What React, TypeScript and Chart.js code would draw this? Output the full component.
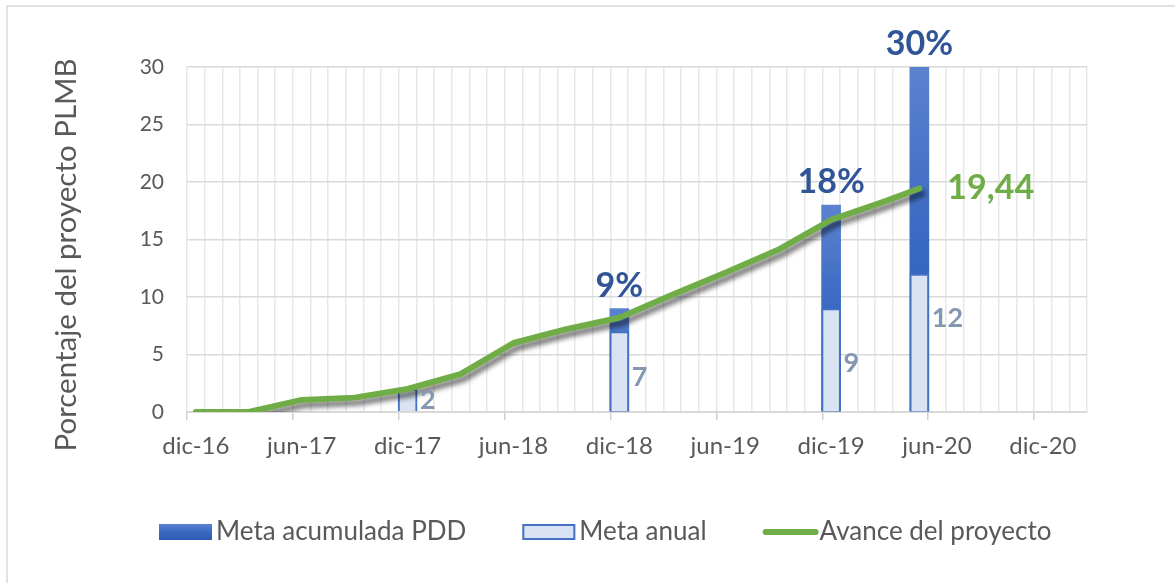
import React, { useEffect, useRef } from 'react';
import { Chart, registerables } from 'chart.js';

Chart.register(...registerables);

// ---------- data ----------
const xTickLabels = ['dic-16', 'jun-17', 'dic-17', 'jun-18', 'dic-18', 'jun-19', 'dic-19', 'jun-20', 'dic-20'];
const seriesNames = ['Meta acumulada PDD', 'Meta anual', 'Avance del proyecto'];
const yTitle = 'Porcentaje del proyecto PLMB';

// months counted from dic-16 (0)
const barMonths = [12, 24, 36, 41];
const metaAcumulada = [null, 9, 18, 30];
const metaAnual = [2, 7, 9, 12];

const avanceMonths = [0, 3, 6, 9, 12, 15, 18, 21, 24, 27, 30, 33, 36, 39, 41];
const avanceValues = [0, 0, 1.05, 1.25, 2.0, 3.3, 6.0, 7.2, 8.2, 10.2, 12.1, 14.1, 16.7, 18.3, 19.44];

const X_MIN = 0;
const X_MAX = 51;
const Y_MIN = 0;
const Y_MAX = 30;
const Y_STEP = 5;

// ---------- styles ----------
const FONT = 'Lato, "Liberation Sans", sans-serif';
const TEXT = '#595959';
const GREEN = '#70AD47';
const BLUE = '#4472C4';
const LIGHT = '#DAE3F3';
const DARK_LABEL = '#2F5597';
const GREY_LABEL = '#8497B0';

function darkGradient(ctx: CanvasRenderingContext2D, top: number, bottom: number) {
  const g = ctx.createLinearGradient(0, top, 0, bottom);
  g.addColorStop(0, '#5B82CF');
  g.addColorStop(0.5, '#3A69C2');
  g.addColorStop(1, '#2C5BB4');
  return g;
}

const framePlugin = {
  id: 'frame',
  beforeDraw(chart: any) {
    const ctx = chart.ctx;
    ctx.save();
    ctx.strokeStyle = '#D9D9D9';
    ctx.lineWidth = 1.5;
    ctx.beginPath();
    ctx.moveTo(7, chart.height);
    ctx.lineTo(7, 6);
    ctx.lineTo(chart.width, 6);
    ctx.stroke();
    ctx.restore();
  },
};

const shadowPlugin = {
  id: 'lineShadow',
  beforeDatasetDraw(chart: any, args: any) {
    if (args.index === 0) {
      const ctx = chart.ctx;
      ctx.save();
      ctx.shadowColor = 'rgba(0,0,0,0.55)';
      ctx.shadowBlur = 5;
      ctx.shadowOffsetX = 3;
      ctx.shadowOffsetY = 5;
    }
  },
  afterDatasetDraw(chart: any, args: any) {
    if (args.index === 0) chart.ctx.restore();
  },
};

const labelPlugin = {
  id: 'labels',
  afterDatasetsDraw(chart: any) {
    const ctx = chart.ctx;
    const yScale = chart.scales.y;
    ctx.save();
    // cumulative labels above dark bars
    const metaAcc = chart.getDatasetMeta(2);
    ctx.font = `bold 34px ${FONT}`;
    ctx.fillStyle = DARK_LABEL;
    ctx.textAlign = 'center';
    ctx.textBaseline = 'alphabetic';
    metaAcc.data.forEach((el: any, i: number) => {
      const raw = chart.data.datasets[2].data[i];
      ctx.fillText(`${raw.y}%`, el.x, el.y - 12);
    });
    // annual labels beside light bars
    const metaAn = chart.getDatasetMeta(1);
    const shifts = [0, 6, 3, -25];
    ctx.font = `bold 27px ${FONT}`;
    ctx.fillStyle = GREY_LABEL;
    ctx.textAlign = 'left';
    ctx.textBaseline = 'middle';
    metaAn.data.forEach((el: any, i: number) => {
      const raw = chart.data.datasets[1].data[i];
      const mid = (el.y + yScale.getPixelForValue(0)) / 2 + (shifts[i] || 0);
      ctx.fillText(String(raw.y), el.x + el.width / 2 + 3, mid);
    });
    // last value of the line
    const metaLine = chart.getDatasetMeta(0);
    const last = metaLine.data[metaLine.data.length - 1];
    const lastVal = avanceValues[avanceValues.length - 1];
    ctx.font = `bold 34px ${FONT}`;
    ctx.fillStyle = GREEN;
    ctx.textAlign = 'left';
    ctx.textBaseline = 'middle';
    ctx.fillText(lastVal.toFixed(2).replace('.', ','), last.x + 28, last.y);
    ctx.restore();
  },
};

const titlePlugin = {
  id: 'yTitle',
  afterDraw(chart: any) {
    const ctx = chart.ctx;
    ctx.save();
    ctx.translate(66, 255);
    ctx.rotate(-Math.PI / 2);
    ctx.font = `29.5px ${FONT}`;
    ctx.fillStyle = TEXT;
    ctx.textAlign = 'center';
    ctx.textBaseline = 'middle';
    ctx.fillText(yTitle, 0, 0);
    ctx.restore();
  },
};

const legendPlugin = {
  id: 'customLegend',
  afterDraw(chart: any) {
    const ctx = chart.ctx;
    ctx.save();
    ctx.font = `26px ${FONT}`;
    ctx.textAlign = 'left';
    ctx.textBaseline = 'middle';
    const y = 532;
    let x = 159;
    const boxW = 53;
    const boxH = 16;
    const gap = 4;
    const spacing = 56;
    seriesNames.forEach((name, i) => {
      if (i === 0) {
        ctx.fillStyle = darkGradient(ctx, y - boxH / 2, y + boxH / 2);
        ctx.fillRect(x, y - boxH / 2, boxW, boxH);
      } else if (i === 1) {
        ctx.fillStyle = LIGHT;
        ctx.fillRect(x, y - boxH / 2, boxW, boxH);
        ctx.strokeStyle = BLUE;
        ctx.lineWidth = 2;
        ctx.strokeRect(x + 1, y - boxH / 2 + 1, boxW - 2, boxH - 2);
      } else {
        ctx.strokeStyle = GREEN;
        ctx.lineWidth = 6;
        ctx.lineCap = 'round';
        ctx.beginPath();
        ctx.moveTo(x + 3, y);
        ctx.lineTo(x + boxW, y);
        ctx.stroke();
      }
      ctx.fillStyle = TEXT;
      ctx.fillText(name, x + boxW + gap, y);
      x += boxW + gap + ctx.measureText(name).width + spacing;
    });
    ctx.restore();
  },
};

export default function App() {
  const canvasRef = useRef<HTMLCanvasElement | null>(null);

  useEffect(() => {
    if (!canvasRef.current) return;

    const lineData = avanceMonths.map((m, i) => ({ x: m + 0.5, y: avanceValues[i] }));
    const anualData = barMonths.map((m, i) => ({ x: m + 0.5, y: metaAnual[i] }));
    const accData = barMonths
      .map((m, i) => ({ x: m + 0.5, y: metaAcumulada[i] }))
      .filter((d) => d.y !== null);

    const chart = new Chart(canvasRef.current, {
      type: 'line',
      data: {
        datasets: [
          {
            type: 'line',
            label: seriesNames[2],
            data: lineData,
            borderColor: GREEN,
            backgroundColor: GREEN,
            borderWidth: 6,
            pointRadius: 0,
            pointHoverRadius: 0,
            tension: 0,
            fill: false,
            borderCapStyle: 'round',
            borderJoinStyle: 'round',
            order: 0,
          } as any,
          {
            type: 'bar',
            label: seriesNames[1],
            data: anualData,
            backgroundColor: LIGHT,
            borderColor: BLUE,
            borderWidth: 2,
            barThickness: 19,
            grouped: false,
            order: 1,
          } as any,
          {
            type: 'bar',
            label: seriesNames[0],
            data: accData,
            backgroundColor: (c: any) => {
              const ch = c.chart;
              if (!ch.chartArea || !c.raw) return BLUE;
              const top = ch.scales.y.getPixelForValue(c.raw.y);
              const bottom = ch.scales.y.getPixelForValue(0);
              return darkGradient(ch.ctx, top, bottom);
            },
            borderWidth: 0,
            barThickness: 19,
            grouped: false,
            order: 2,
          } as any,
        ],
      },
      options: {
        animation: false,
        responsive: true,
        maintainAspectRatio: false,
        layout: { padding: { left: 0, right: 88, top: 67, bottom: 111 } },
        plugins: {
          legend: { display: false },
          tooltip: { enabled: false },
          title: { display: false },
        },
        scales: {
          x: {
            type: 'linear',
            min: X_MIN,
            max: X_MAX,
            offset: false,
            afterFit: (s: any) => {
              s.height = 60;
            },
            ticks: {
              stepSize: 1,
              autoSkip: false,
              maxRotation: 0,
              minRotation: 0,
              labelOffset: 8.8,
              padding: 12,
              color: TEXT,
              font: { family: FONT, size: 24 },
              callback: (v: any) => (Number(v) % 6 === 0 ? xTickLabels[Number(v) / 6] : ''),
            },
            grid: {
              offset: false,
              color: '#E8E8E8',
              lineWidth: 1.5,
              tickLength: 8,
              tickWidth: 1.5,
              tickColor: (c: any) => (c.tick && c.tick.value % 6 === 0 ? '#D0D0D0' : 'rgba(0,0,0,0)'),
            },
            border: { display: true, color: '#D9D9D9', width: 2 },
          },
          y: {
            type: 'linear',
            min: Y_MIN,
            max: Y_MAX,
            afterFit: (s: any) => {
              s.width = 187;
            },
            ticks: {
              stepSize: Y_STEP,
              padding: 23,
              color: TEXT,
              font: { family: FONT, size: 21 },
            },
            grid: { color: '#D9D9D9', lineWidth: 1.5, drawTicks: false },
            border: { display: false },
          },
        },
      } as any,
      plugins: [framePlugin, shadowPlugin, labelPlugin, titlePlugin, legendPlugin],
    });

    return () => chart.destroy();
  }, []);

  return (
    <div style={{ position: 'fixed', left: 0, top: 0, width: 1175, height: 583, background: '#fff' }}>
      <canvas ref={canvasRef} />
    </div>
  );
}
